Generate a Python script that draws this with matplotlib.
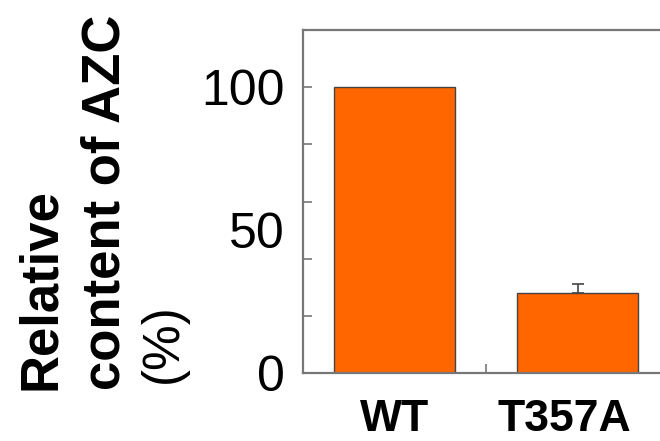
import matplotlib
matplotlib.use('Agg')
import matplotlib.pyplot as plt
import matplotlib.transforms as mtransforms
from matplotlib.ticker import FixedLocator

plt.rcParams['font.family'] = ['Liberation Sans', 'DejaVu Sans']

# data
strains = ['WT', 'T357A']
azc_content = [100, 28]
azc_err = [0, 3]
y_tick_marks = [0, 20, 40, 60, 80, 100]
y_tick_labels = [0, 50, 100]

W, H = 660, 441
fig = plt.figure(figsize=(W / 100, H / 100), dpi=100)
ax = fig.add_axes([303 / W, 1 - 373 / H, 366 / W, 343 / H])

xpos = [0.5, 1.5]
ax.bar(xpos, azc_content, width=0.656, color='#ff6600', edgecolor='#444444',
       linewidth=1.0, zorder=2)
# only draw error bars where there is an error value
for x, v, e in zip(xpos, azc_content, azc_err):
    if e > 0:
        ax.errorbar([x], [v], yerr=[[0], [e]], fmt='none', ecolor='#444444',
                    elinewidth=1.2, capsize=4.5, capthick=1.2, zorder=3)

ax.set_xlim(0, 2)
ax.set_ylim(0, 120)

spine_col = '#777777'
for s in ['left', 'bottom', 'top', 'right']:
    ax.spines[s].set_color(spine_col)
    ax.spines[s].set_linewidth(1.6)

# y: marks every 20, labels at 0/50/100
ax.yaxis.remove_overlapping_locs = False
ax.yaxis.set_major_locator(FixedLocator(y_tick_labels))
ax.set_yticklabels([str(v) for v in y_tick_labels])
ax.yaxis.set_minor_locator(FixedLocator(y_tick_marks))
ax.tick_params(axis='y', which='major', length=0, pad=13, labelsize=36)
ax.tick_params(axis='y', which='minor', direction='in', length=6.5,
               width=1.2, color=spine_col)

# x: labels under bars, one inner mark between them
ax.xaxis.set_major_locator(FixedLocator(xpos))
ax.set_xticklabels(strains, fontweight='bold')
ax.xaxis.set_minor_locator(FixedLocator([1.0]))
ax.tick_params(axis='x', which='major', length=0, pad=19, labelsize=32)
ax.tick_params(axis='x', which='minor', direction='in', length=6.5,
               width=1.2, color=spine_col)
# the second label sits a little left of its bar in the original
lbl = ax.get_xticklabels()[1]
lbl.set_transform(lbl.get_transform() +
                  mtransforms.ScaledTranslation(-13 / 100, 0, fig.dpi_scale_trans))

# y axis title, three lines
fig.text(55 / W, 1 - 390 / H, 'Relative', rotation=90, rotation_mode='anchor',
         ha='left', va='baseline', fontsize=38, fontweight='bold')
fig.text(120 / W, 1 - 390 / H, 'content of AZC', rotation=90, rotation_mode='anchor',
         ha='left', va='baseline', fontsize=38, fontweight='bold')
fig.text(177 / W, 1 - 383 / H, '(%)', rotation=90, rotation_mode='anchor',
         ha='left', va='baseline', fontsize=37)

fig.savefig('out.png', dpi=100)
